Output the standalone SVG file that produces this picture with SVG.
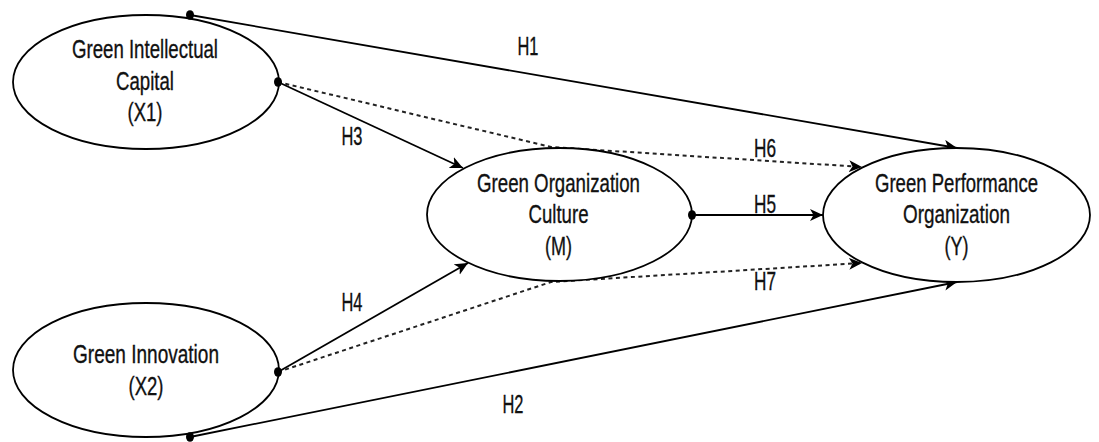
<svg xmlns="http://www.w3.org/2000/svg" width="1099" height="442" viewBox="0 0 1099 442">
  <style>
    .node ellipse { fill: #ffffff; stroke: #000000; stroke-width: 1.8; }
    text { font-family: "Liberation Sans", Arial, sans-serif; font-size: 25.5px; fill: #111111; stroke: #111111; stroke-width: 0.35; text-anchor: middle; }
    .solid { fill: none; stroke: #000000; stroke-width: 1.8; }
    .dash { fill: none; stroke: #222222; stroke-width: 2; stroke-dasharray: 4 3.5; }
    .dot { fill: #000000; }
  </style>
  <defs>
    <marker id="arrow" markerUnits="userSpaceOnUse" markerWidth="16" markerHeight="14" refX="13" refY="6" orient="auto">
      <path d="M0,0 L13,6 L0,12 L3.5,6 Z" fill="#000000" stroke="none"/>
    </marker>
  </defs>
  <rect width="1099" height="442" fill="#ffffff"/>

  <g id="connectors">
    <line id="H1-line" class="solid" x1="190" y1="15" x2="957" y2="148" marker-end="url(#arrow)"/>
    <line id="H2-line" class="solid" x1="190" y1="437" x2="957" y2="282" marker-end="url(#arrow)"/>
    <line id="H3-line" class="solid" x1="278" y1="82" x2="463" y2="168" marker-end="url(#arrow)"/>
    <line id="H4-line" class="solid" x1="278" y1="372" x2="468" y2="263" marker-end="url(#arrow)"/>
    <line id="H5-line" class="solid" x1="692" y1="215" x2="823" y2="215" marker-end="url(#arrow)"/>
    <polyline id="H6-line" class="dash" points="278,82 551,147 862,167" marker-end="url(#arrow)"/>
    <polyline id="H7-line" class="dash" points="278,372 551,282 862,263" marker-end="url(#arrow)"/>
    <g id="labels">
      <text x="528" y="55" textLength="21" lengthAdjust="spacingAndGlyphs">H1</text>
      <text x="513" y="413" textLength="21" lengthAdjust="spacingAndGlyphs">H2</text>
      <text x="352" y="145" textLength="21" lengthAdjust="spacingAndGlyphs">H3</text>
      <text x="352" y="311" textLength="21" lengthAdjust="spacingAndGlyphs">H4</text>
      <text x="765" y="213" textLength="22" lengthAdjust="spacingAndGlyphs">H5</text>
      <text x="765" y="157" textLength="22" lengthAdjust="spacingAndGlyphs">H6</text>
      <text x="765" y="290" textLength="22" lengthAdjust="spacingAndGlyphs">H7</text>
    </g>
  </g>

  <g id="X1" class="node">
    <ellipse cx="146" cy="82" rx="133" ry="67"/>
    <text x="145" y="58" textLength="146" lengthAdjust="spacingAndGlyphs">Green Intellectual</text>
    <text x="145" y="90" textLength="58" lengthAdjust="spacingAndGlyphs">Capital</text>
    <text x="145" y="121" textLength="35" lengthAdjust="spacingAndGlyphs">(X1)</text>
  </g>

  <g id="X2" class="node">
    <ellipse cx="146" cy="370" rx="133" ry="67"/>
    <text x="146" y="363" textLength="146" lengthAdjust="spacingAndGlyphs">Green Innovation</text>
    <text x="146" y="395" textLength="35" lengthAdjust="spacingAndGlyphs">(X2)</text>
  </g>

  <g id="M" class="node">
    <ellipse cx="559.5" cy="214.5" rx="132.5" ry="66.5"/>
    <text x="558.5" y="192" textLength="163" lengthAdjust="spacingAndGlyphs">Green Organization</text>
    <text x="558.5" y="223" textLength="60" lengthAdjust="spacingAndGlyphs">Culture</text>
    <text x="558.5" y="255" textLength="27" lengthAdjust="spacingAndGlyphs">(M)</text>
  </g>

  <g id="Y" class="node">
    <ellipse cx="956.5" cy="215" rx="133.5" ry="67"/>
    <text x="956.5" y="192" textLength="163" lengthAdjust="spacingAndGlyphs">Green Performance</text>
    <text x="956.5" y="223" textLength="107" lengthAdjust="spacingAndGlyphs">Organization</text>
    <text x="956.5" y="255" textLength="24" lengthAdjust="spacingAndGlyphs">(Y)</text>
  </g>

  <g id="dots">
    <ellipse class="dot" cx="190" cy="15" rx="4" ry="4.8"/>
    <ellipse class="dot" cx="278" cy="82" rx="4" ry="4.8"/>
    <ellipse class="dot" cx="278" cy="372" rx="4" ry="4.8"/>
    <ellipse class="dot" cx="190" cy="437" rx="4" ry="4.8"/>
    <ellipse class="dot" cx="692" cy="215" rx="4" ry="4.8"/>
  </g>
</svg>
